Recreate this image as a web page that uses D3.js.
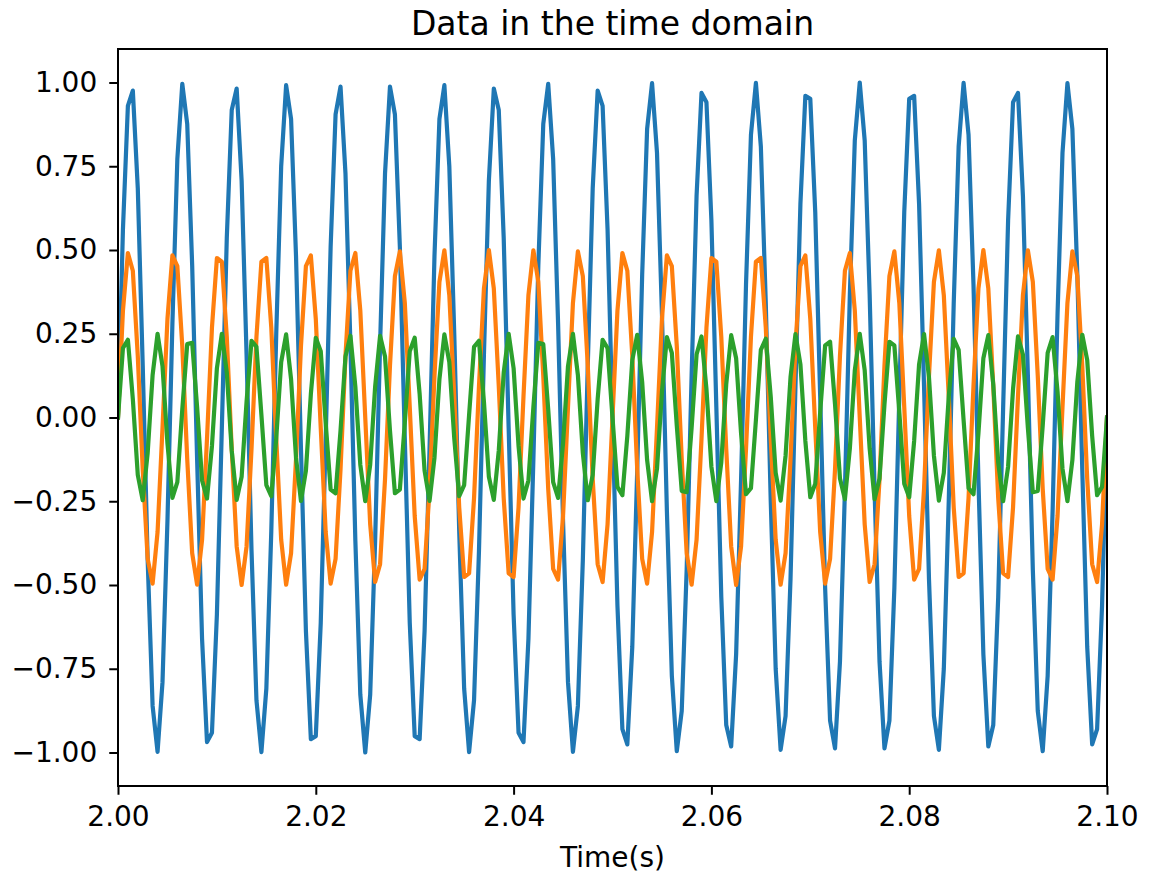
<!DOCTYPE html>
<html>
<head>
<meta charset="utf-8">
<script src="https://cdn.jsdelivr.net/npm/d3@7"></script>
<style>
  body { margin: 0; background: #fff; }
  text { font-family: "DejaVu Sans", sans-serif; fill: #000; }
</style>
</head>
<body>
<script>
// Sampling: samples every 0.0005 s starting at t = 2.00 s
var startTime = 2.0;
var sampleStep = 0.0005;

// Sampled signals (one value per sample)
var blueSeries = [
  0, 0.562, 0.930, 0.976, 0.685, 0.156, -0.426, -0.861, -0.998, -0.790,
  -0.309, 0.279, 0.771, 0.996, 0.876, 0.454, -0.125, -0.661, -0.969, -0.941,
  -0.588, -0.031, 0.536, 0.918, 0.982, 0.707, 0.187, -0.397, -0.844, -0.999,
  -0.809, -0.339, 0.249, 0.750, 0.992, 0.891, 0.482, -0.094, -0.637, -0.960,
  -0.951, -0.613, -0.063, 0.509, 0.905, 0.988, 0.729, 0.218, -0.368, -0.827,
  -1.000, -0.827, -0.368, 0.218, 0.729, 0.988, 0.905, 0.509, -0.063, -0.613,
  -0.951, -0.960, -0.637, -0.094, 0.482, 0.891, 0.992, 0.750, 0.249, -0.339,
  -0.809, -0.999, -0.844, -0.397, 0.187, 0.707, 0.982, 0.918, 0.536, -0.031,
  -0.588, -0.941, -0.969, -0.661, -0.125, 0.454, 0.876, 0.996, 0.771, 0.279,
  -0.309, -0.790, -0.998, -0.861, -0.426, 0.156, 0.685, 0.976, 0.930, 0.562,
  0,
  -0.562, -0.930, -0.976, -0.685, -0.156, 0.426, 0.861, 0.998, 0.790, 0.309,
  -0.279, -0.771, -0.996, -0.876, -0.454, 0.125, 0.661, 0.969, 0.941, 0.588,
  0.031, -0.536, -0.918, -0.982, -0.707, -0.187, 0.397, 0.844, 0.999, 0.809,
  0.339, -0.249, -0.750, -0.992, -0.891, -0.482, 0.094, 0.637, 0.960, 0.951,
  0.613, 0.063, -0.509, -0.905, -0.988, -0.729, -0.218, 0.368, 0.827, 1.000,
  0.827, 0.368, -0.218, -0.729, -0.988, -0.905, -0.509, 0.063, 0.613, 0.951,
  0.960, 0.637, 0.094, -0.482, -0.891, -0.992, -0.750, -0.249, 0.339, 0.809,
  0.999, 0.844, 0.397, -0.187, -0.707, -0.982, -0.918, -0.536, 0.031, 0.588,
  0.941, 0.969, 0.661, 0.125, -0.454, -0.876, -0.996, -0.771, -0.279, 0.309,
  0.790, 0.998, 0.861, 0.426, -0.156, -0.685, -0.976, -0.930, -0.562, 0
];

var orangeSeries = [
  0, 0.319, 0.491, 0.438, 0.184, -0.155, -0.422, -0.496, -0.342, -0.031,
  0.294, 0.484, 0.452, 0.213, -0.124, -0.405, -0.499, -0.365, -0.063, 0.268,
  0.476, 0.465, 0.241, -0.094, -0.385, -0.500, -0.385, -0.094, 0.241, 0.465,
  0.476, 0.268, -0.063, -0.365, -0.499, -0.405, -0.124, 0.213, 0.452, 0.484,
  0.294, -0.031, -0.342, -0.496, -0.422, -0.155, 0.184, 0.438, 0.491, 0.319,
  0, -0.319, -0.491, -0.438, -0.184, 0.155, 0.422, 0.496, 0.342, 0.031,
  -0.294, -0.484, -0.452, -0.213, 0.124, 0.405, 0.499, 0.365, 0.063, -0.268,
  -0.476, -0.465, -0.241, 0.094, 0.385, 0.500, 0.385, 0.094, -0.241, -0.465,
  -0.476, -0.268, 0.063, 0.365, 0.499, 0.405, 0.124, -0.213, -0.452, -0.484,
  -0.294, 0.031, 0.342, 0.496, 0.422, 0.155, -0.184, -0.438, -0.491, -0.319,
  0, 0.319, 0.491, 0.438, 0.184, -0.155, -0.422, -0.496, -0.342, -0.031,
  0.294, 0.484, 0.452, 0.213, -0.124, -0.405, -0.499, -0.365, -0.063, 0.268,
  0.476, 0.465, 0.241, -0.094, -0.385, -0.500, -0.385, -0.094, 0.241, 0.465,
  0.476, 0.268, -0.063, -0.365, -0.499, -0.405, -0.124, 0.213, 0.452, 0.484,
  0.294, -0.031, -0.342, -0.496, -0.422, -0.155, 0.184, 0.438, 0.491, 0.319,
  0, -0.319, -0.491, -0.438, -0.184, 0.155, 0.422, 0.496, 0.342, 0.031,
  -0.294, -0.484, -0.452, -0.213, 0.124, 0.405, 0.499, 0.365, 0.063, -0.268,
  -0.476, -0.465, -0.241, 0.094, 0.385, 0.500, 0.385, 0.094, -0.241, -0.465,
  -0.476, -0.268, 0.063, 0.365, 0.499, 0.405, 0.124, -0.213, -0.452, -0.484,
  -0.294, 0.031, 0.342, 0.496, 0.422, 0.155, -0.184, -0.438, -0.491, -0.319,
  0
];

var greenSeries = [
  0, 0.207, 0.232, 0.055, -0.171, -0.247, -0.106, 0.127, 0.250, 0.153,
  -0.077, -0.240, -0.193, 0.024, 0.219, 0.223, 0.031, -0.188, -0.242, -0.085,
  0.147, 0.250, 0.134, -0.099, -0.246, -0.177, 0.047, 0.229, 0.211, 0.008,
  -0.202, -0.235, -0.062, 0.165, 0.248, 0.114, -0.120, -0.249, -0.159, 0.070,
  0.238, 0.198, -0.016, -0.215, -0.226, -0.039, 0.182, 0.244, 0.092, -0.141,
  -0.250, -0.141, 0.092, 0.244, 0.182, -0.039, -0.226, -0.215, -0.016, 0.198,
  0.238, 0.070, -0.159, -0.249, -0.120, 0.114, 0.248, 0.165, -0.062, -0.235,
  -0.202, 0.008, 0.211, 0.229, 0.047, -0.177, -0.246, -0.099, 0.134, 0.250,
  0.147, -0.085, -0.242, -0.188, 0.031, 0.223, 0.219, 0.024, -0.193, -0.240,
  -0.077, 0.153, 0.250, 0.127, -0.106, -0.247, -0.171, 0.055, 0.232, 0.207,
  0,
  -0.207, -0.232, -0.055, 0.171, 0.247, 0.106, -0.127, -0.250, -0.153, 0.077,
  0.240, 0.193, -0.024, -0.219, -0.223, -0.031, 0.188, 0.242, 0.085, -0.147,
  -0.250, -0.134, 0.099, 0.246, 0.177, -0.047, -0.229, -0.211, -0.008, 0.202,
  0.235, 0.062, -0.165, -0.248, -0.114, 0.120, 0.249, 0.159, -0.070, -0.238,
  -0.198, 0.016, 0.215, 0.226, 0.039, -0.182, -0.244, -0.092, 0.141, 0.250,
  0.141, -0.092, -0.244, -0.182, 0.039, 0.226, 0.215, 0.016, -0.198, -0.238,
  -0.070, 0.159, 0.249, 0.120, -0.114, -0.248, -0.165, 0.062, 0.235, 0.202,
  -0.008, -0.211, -0.229, -0.047, 0.177, 0.246, 0.099, -0.134, -0.250, -0.147,
  0.085, 0.242, 0.188, -0.031, -0.223, -0.219, -0.024, 0.193, 0.240, 0.077,
  -0.153, -0.250, -0.127, 0.106, 0.247, 0.171, -0.055, -0.232, -0.207, 0
];

var seriesColors = ["#1f77b4", "#ff7f0e", "#2ca02c"];

// Tick labels
var xTicks = [2.00, 2.02, 2.04, 2.06, 2.08, 2.10];
var yTicks = [-1.00, -0.75, -0.50, -0.25, 0.00, 0.25, 0.50, 0.75, 1.00];

var titleText = "Data in the time domain";
var xLabelText = "Time(s)";

//Width and height
var w = 1153;
var h = 873;
var plotLeft = 118, plotRight = 1107, plotTop = 49, plotBottom = 786;

var x = d3.scaleLinear().domain([2.0, 2.1]).range([plotLeft, plotRight]);
var y = d3.scaleLinear().domain([-1.1, 1.1]).range([plotBottom, plotTop]);

var svg = d3.select("body")
            .append("svg")
            .attr("width", w)
            .attr("height", h);

svg.append("defs").append("clipPath")
   .attr("id", "plotclip")
   .append("rect")
   .attr("x", plotLeft).attr("y", plotTop)
   .attr("width", plotRight - plotLeft).attr("height", plotBottom - plotTop);

var line = d3.line()
             .x((d, i) => x(startTime + i * sampleStep))
             .y((d) => y(d));

var plot = svg.append("g").attr("clip-path", "url(#plotclip)");

[blueSeries, orangeSeries, greenSeries].forEach((s, i) => {
    plot.append("path")
        .datum(s)
        .attr("d", line)
        .attr("fill", "none")
        .attr("stroke", seriesColors[i])
        .attr("stroke-width", 4.2)
        .attr("stroke-linejoin", "round")
        .attr("stroke-linecap", "square");
});

//Axes
var xAxis = d3.axisBottom(x)
              .tickValues(xTicks)
              .tickFormat(d3.format(".2f"))
              .tickSize(8.75)
              .tickPadding(11);

var yAxis = d3.axisLeft(y)
              .tickValues(yTicks)
              .tickFormat(d3.format(".2f"))
              .tickSize(8.75)
              .tickPadding(12);

var gx = svg.append("g")
            .attr("transform", "translate(0," + plotBottom + ")")
            .call(xAxis);
var gy = svg.append("g")
            .attr("transform", "translate(" + plotLeft + ",0)")
            .call(yAxis);

[gx, gy].forEach((g) => {
    g.select(".domain").remove();
    g.selectAll(".tick line").attr("stroke", "#000").attr("stroke-width", 2);
    g.selectAll(".tick text")
     .attr("fill", "#000")
     .attr("font-size", "28px")
     .attr("font-family", "DejaVu Sans, sans-serif");
});

//Frame
svg.append("rect")
   .attr("x", plotLeft).attr("y", plotTop)
   .attr("width", plotRight - plotLeft).attr("height", plotBottom - plotTop)
   .attr("fill", "none")
   .attr("stroke", "#000")
   .attr("stroke-width", 2);

//Title and label
svg.append("text")
   .attr("x", (plotLeft + plotRight) / 2)
   .attr("y", 35)
   .attr("text-anchor", "middle")
   .attr("font-size", "33px")
   .text(titleText);

svg.append("text")
   .attr("x", (plotLeft + plotRight) / 2)
   .attr("y", 867)
   .attr("text-anchor", "middle")
   .attr("font-size", "28px")
   .text(xLabelText);
</script>
</body>
</html>
